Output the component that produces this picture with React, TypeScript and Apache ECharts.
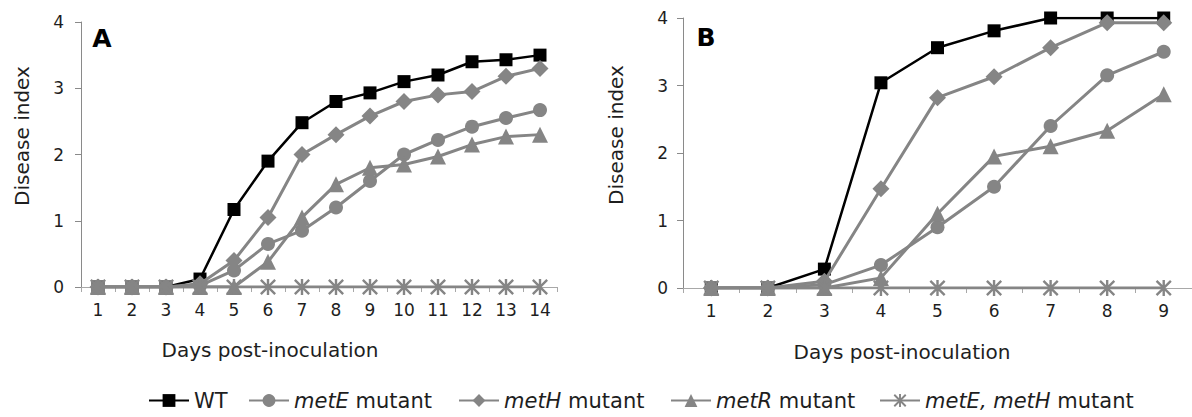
import React, { useEffect, useRef } from "react";
import * as echarts from "echarts";

const FONT = "DejaVu Sans, Verdana, sans-serif";
const TEXT = "#1e1e1e";
const GRAY = "#858585";

const daysA = ["1", "2", "3", "4", "5", "6", "7", "8", "9", "10", "11", "12", "13", "14"];
const daysB = ["1", "2", "3", "4", "5", "6", "7", "8", "9"];
const yTicks = [0, 1, 2, 3, 4];

const aWT = [0, 0, 0, 0.12, 1.17, 1.9, 2.48, 2.8, 2.93, 3.1, 3.2, 3.4, 3.43, 3.5];
const aMetE = [0, 0, 0, 0.02, 0.25, 0.65, 0.85, 1.2, 1.6, 2.0, 2.22, 2.42, 2.55, 2.67];
const aMetH = [0, 0, 0, 0.05, 0.4, 1.05, 2.0, 2.3, 2.58, 2.8, 2.9, 2.95, 3.18, 3.3];
const aMetR = [0, 0, 0, 0, 0, 0.38, 1.05, 1.55, 1.8, 1.85, 1.97, 2.15, 2.27, 2.3];
const aMetEH = [0, 0, 0, 0, 0, 0, 0, 0, 0, 0, 0, 0, 0, 0];

const bWT = [0, 0, 0.28, 3.04, 3.56, 3.81, 4, 4, 4];
const bMetE = [0, 0, 0.05, 0.34, 0.9, 1.5, 2.4, 3.15, 3.5];
const bMetH = [0, 0, 0.1, 1.47, 2.82, 3.13, 3.56, 3.93, 3.93];
const bMetR = [0, 0, 0, 0.15, 1.1, 1.95, 2.1, 2.33, 2.87];
const bMetEH = [0, 0, 0, 0, 0, 0, 0, 0, 0];

const seriesNames = ["WT", "metE mutant", "metH mutant", "metR mutant", "metE, metH mutant"];
const legendItalic = ["", "metE", "metH", "metR", "metE, metH"];
const legendPlain = ["WT", " mutant", " mutant", " mutant", " mutant"];

const ASTERISK =
  "path://M8.5 0H11.5V20H8.5Z M0 2.1L2.1 0L20 17.9L17.9 20Z M17.9 0L20 2.1L2.1 20L0 17.9Z";

const styles = [
  { symbol: "rect", size: 13, color: "#000000", width: 2.5 },
  { symbol: "circle", size: 14, color: GRAY, width: 3 },
  { symbol: "diamond", size: 17, color: GRAY, width: 3 },
  { symbol: "triangle", size: 16, color: GRAY, width: 3 },
  { symbol: ASTERISK, size: 16, color: GRAY, width: 3 },
];

const dataA = [aWT, aMetE, aMetH, aMetR, aMetEH];
const dataB = [bWT, bMetE, bMetH, bMetR, bMetEH];

function makeSeries(idx: number, data: number[], axis: number) {
  const s = styles[idx];
  return {
    type: "line",
    name: seriesNames[idx],
    xAxisIndex: axis,
    yAxisIndex: axis,
    data,
    symbol: s.symbol,
    symbolSize: s.size,
    showAllSymbol: true,
    lineStyle: { color: s.color, width: s.width },
    itemStyle: { color: s.color, borderWidth: 0 },
    emphasis: { disabled: true },
    z: 2 + idx,
  };
}

function makeXAxis(grid: number, cats: string[]) {
  return {
    type: "category",
    gridIndex: grid,
    data: cats,
    boundaryGap: true,
    axisLine: { lineStyle: { color: "#a8a8a8", width: 1 } },
    axisTick: { show: true, length: 5, lineStyle: { color: "#a8a8a8" } },
    axisLabel: { color: TEXT, fontFamily: FONT, fontSize: 17, margin: 14 },
    splitLine: { show: false },
  };
}

function makeYAxis(grid: number, margin: number) {
  return {
    type: "value",
    gridIndex: grid,
    min: yTicks[0],
    max: yTicks[yTicks.length - 1],
    interval: 1,
    axisLine: { show: true, lineStyle: { color: "#8a8a8a", width: 1 } },
    axisTick: { show: true, length: 6, lineStyle: { color: "#8a8a8a" } },
    axisLabel: { color: TEXT, fontFamily: FONT, fontSize: 17, margin },
    splitLine: { show: false },
  };
}

const legendLeft = [143, 243, 453, 665, 874];

export default function App() {
  const ref = useRef<HTMLDivElement>(null);
  useEffect(() => {
    if (!ref.current) return;
    const chart = echarts.init(ref.current, undefined, { renderer: "svg" });
    const series: any[] = [];
    dataA.forEach((d, i) => series.push(makeSeries(i, d, 0)));
    dataB.forEach((d, i) => series.push(makeSeries(i, d, 1)));

    const legends = seriesNames.map((n, i) => ({
      data: [n],
      left: legendLeft[i],
      top: 385,
      itemWidth: 40,
      itemHeight: 16,
      selectedMode: false,
      formatter: () =>
        legendItalic[i] ? `{i|${legendItalic[i]}}{r|${legendPlain[i]}}` : `{r|${legendPlain[i]}}`,
      textStyle: {
        rich: {
          i: { fontFamily: FONT, fontStyle: "italic", fontSize: 21, color: TEXT },
          r: { fontFamily: FONT, fontSize: 21, color: TEXT },
        },
      },
    }));

    const title = (text: string, x: number, y: number, rot: number, size: number) => ({
      type: "text",
      x,
      y,
      rotation: rot,
      style: {
        text,
        fontSize: size,
        fontFamily: FONT,
        fill: TEXT,
        align: "center",
        verticalAlign: "middle",
      },
    });

    chart.setOption({
      animation: false,
      backgroundColor: "#ffffff",
      grid: [
        { left: 81, top: 22, width: 476, height: 265 },
        { left: 683, top: 18, width: 516, height: 270 },
      ],
      xAxis: [makeXAxis(0, daysA), makeXAxis(1, daysB)],
      yAxis: [makeYAxis(0, 17), makeYAxis(1, 15)],
      legend: legends,
      series,
      graphic: [
        title("Disease index", 22, 136, Math.PI / 2, 20),
        title("Disease index", 616, 135, Math.PI / 2, 20),
        title("Days post-inoculation", 270, 350, 0, 20),
        title("Days post-inoculation", 902, 352, 0, 20),
        {
          type: "text",
          x: 102,
          y: 38,
          style: { text: "A", fontSize: 25, fontWeight: "bold", fontFamily: FONT, fill: "#000", align: "center", verticalAlign: "middle" },
        },
        {
          type: "text",
          x: 706,
          y: 37,
          style: { text: "B", fontSize: 25, fontWeight: "bold", fontFamily: FONT, fill: "#000", align: "center", verticalAlign: "middle" },
        },
      ],
    });
    return () => chart.dispose();
  }, []);
  return (
    <div
      ref={ref}
      style={{ position: "fixed", left: 0, top: 0, width: 1192, height: 417, background: "#fff" }}
    />
  );
}
